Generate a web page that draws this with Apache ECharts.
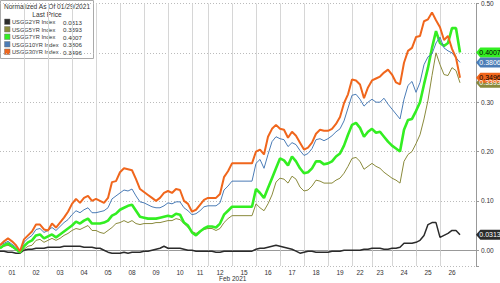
<!DOCTYPE html>
<html><head><meta charset="utf-8">
<script src="https://cdn.jsdelivr.net/npm/echarts@6/dist/echarts.min.js"></script>
<style>html,body{margin:0;padding:0;background:#fff}#c{width:500px;height:283px}</style>
</head><body><div id="c"></div>
<script>
// Session labels and the category index where each session starts / is labelled
const dayLabels = ['01','02','03','04','05','08','09','10','11','12','15','16','17','18','19','22','23','24','25','26'];
const dayStart  = [0,6,12,18,24,30,36,42,48,52,58,64,70,76,82,88,93,98,104,110];
const dayMid    = [3,9,15,21,27,33,39,45,50,55,61,67,73,79,85,90,95,101,107,113];
const totalSlots = 120;

const names = ['USGG2YR Index','USGG5YR Index','USGG7YR Index','USGG10YR Index','USGG30YR Index'];
const lastPrice = [0.0313, 0.3393, 0.4007, 0.3806, 0.3496];

const s2 = [-0.002,-0.002,-0.004,-0.004,-0.006,-0.006,0.000,0.002,0.002,0.004,0.004,0.004,0.006,0.006,0.006,0.006,0.008,0.008,0.008,0.008,
0.008,0.006,0.006,0.006,0.004,0.004,0.000,-0.004,-0.006,-0.006,-0.006,-0.004,-0.006,-0.004,-0.004,-0.004,-0.002,-0.002,0.000,0.002,
0.004,0.008,0.004,0.004,0.004,0.004,0.002,0.000,0.000,-0.002,-0.002,-0.002,-0.002,-0.002,-0.004,-0.004,-0.002,-0.002,-0.002,-0.002,
-0.002,-0.002,-0.002,-0.002,0.002,0.004,0.004,0.006,0.008,0.010,0.008,0.006,0.004,0.002,-0.002,-0.006,-0.004,-0.002,-0.002,-0.004,
-0.004,-0.004,-0.004,-0.002,-0.002,-0.002,0.000,0.000,0.000,0.000,0.000,0.002,0.002,0.004,0.004,0.004,0.002,0.002,0.004,0.004,
0.006,0.014,0.014,0.014,0.016,0.020,0.030,0.052,0.056,0.056,0.026,0.030,0.034,0.040,0.040,0.0313];

const s5 = [0.004,0.008,0.010,0.006,0.002,-0.006,0.002,0.008,0.010,0.020,0.022,0.016,0.020,0.024,0.020,0.024,0.030,0.034,0.040,0.044,
0.042,0.046,0.050,0.040,0.040,0.036,0.034,0.040,0.046,0.054,0.056,0.060,0.056,0.060,0.054,0.052,0.054,0.054,0.054,0.056,
0.056,0.058,0.060,0.060,0.064,0.062,0.054,0.046,0.038,0.034,0.038,0.042,0.044,0.044,0.040,0.044,0.056,0.064,0.070,0.070,
0.070,0.070,0.070,0.070,0.094,0.086,0.080,0.094,0.112,0.138,0.146,0.144,0.136,0.150,0.144,0.128,0.120,0.122,0.130,0.142,
0.140,0.136,0.136,0.136,0.142,0.146,0.156,0.170,0.186,0.188,0.180,0.164,0.170,0.176,0.170,0.166,0.158,0.152,0.146,0.142,
0.136,0.180,0.194,0.200,0.216,0.234,0.266,0.304,0.354,0.400,0.376,0.356,0.354,0.370,0.364,0.3393];

const s7 = [0.004,0.010,0.014,0.008,0.002,-0.004,0.008,0.016,0.020,0.030,0.032,0.024,0.028,0.032,0.026,0.032,0.038,0.044,0.050,0.058,
0.054,0.060,0.064,0.054,0.054,0.054,0.056,0.060,0.070,0.074,0.082,0.086,0.090,0.092,0.080,0.068,0.066,0.064,0.064,0.064,
0.066,0.068,0.070,0.068,0.074,0.072,0.056,0.050,0.036,0.030,0.038,0.044,0.048,0.048,0.046,0.054,0.072,0.080,0.088,0.088,
0.088,0.088,0.088,0.088,0.124,0.116,0.106,0.126,0.146,0.166,0.186,0.182,0.172,0.190,0.180,0.166,0.156,0.158,0.166,0.180,
0.180,0.174,0.176,0.180,0.190,0.196,0.212,0.234,0.254,0.258,0.248,0.230,0.240,0.246,0.238,0.240,0.230,0.220,0.212,0.206,
0.200,0.244,0.264,0.266,0.282,0.300,0.336,0.370,0.410,0.444,0.420,0.414,0.420,0.450,0.450,0.4007];

const s10 = [0.010,0.014,0.018,0.012,0.006,-0.002,0.016,0.024,0.030,0.042,0.044,0.036,0.040,0.046,0.040,0.048,0.056,0.062,0.072,0.080,
0.076,0.082,0.086,0.076,0.076,0.078,0.080,0.086,0.104,0.110,0.116,0.122,0.120,0.124,0.110,0.098,0.096,0.092,0.088,0.086,
0.086,0.090,0.096,0.094,0.098,0.098,0.086,0.080,0.072,0.074,0.080,0.088,0.090,0.090,0.090,0.096,0.122,0.130,0.140,0.140,
0.140,0.140,0.140,0.140,0.176,0.184,0.166,0.194,0.220,0.230,0.226,0.224,0.210,0.218,0.214,0.202,0.192,0.196,0.206,0.224,
0.226,0.222,0.226,0.232,0.240,0.246,0.262,0.288,0.314,0.316,0.306,0.292,0.300,0.306,0.300,0.300,0.308,0.296,0.286,0.276,
0.266,0.306,0.334,0.342,0.320,0.340,0.376,0.392,0.398,0.420,0.432,0.410,0.404,0.400,0.390,0.3806];

const s30 = [0.010,0.018,0.024,0.018,0.010,-0.002,0.022,0.030,0.038,0.052,0.052,0.042,0.040,0.054,0.046,0.056,0.066,0.078,0.094,0.104,
0.096,0.106,0.110,0.100,0.104,0.100,0.096,0.106,0.138,0.140,0.158,0.166,0.164,0.162,0.144,0.124,0.118,0.112,0.106,0.100,
0.106,0.116,0.120,0.116,0.124,0.122,0.100,0.094,0.078,0.082,0.092,0.102,0.106,0.106,0.106,0.114,0.148,0.160,0.176,0.176,
0.176,0.176,0.176,0.176,0.200,0.204,0.194,0.230,0.246,0.254,0.246,0.244,0.228,0.240,0.232,0.218,0.204,0.208,0.218,0.236,
0.244,0.242,0.242,0.246,0.256,0.270,0.298,0.316,0.346,0.344,0.336,0.308,0.330,0.344,0.348,0.352,0.360,0.366,0.356,0.340,
0.336,0.380,0.404,0.410,0.432,0.434,0.464,0.468,0.482,0.466,0.452,0.426,0.434,0.408,0.390,0.3496];

const seriesData = [s2, s5, s7, s10, s30];
const colors   = ['#2b2b2b', '#8a8a3c', '#33ee22', '#4b7cb6', '#f0661c'];
const widths   = [1.5, 1, 2.6, 1, 2];
const tagText  = ['#ffffff', '#ffffff', '#000000', '#ffffff', '#000000'];

const FONT = 'Liberation Sans';
const startSet = new Set(dayStart.slice(1));
const midMap = {};
dayMid.forEach((m, k) => { midMap[m] = dayLabels[k]; });
const cats = Array.from({length: totalSlots}, (_, i) => String(i));

const chart = echarts.init(document.getElementById('c'), null, {renderer: 'svg', width: 500, height: 283});

const series = seriesData.map((d, k) => ({
  name: names[k],
  type: 'line',
  data: d,
  showSymbol: false,
  symbol: 'none',
  lineStyle: {color: colors[k], width: widths[k]},
  itemStyle: {color: colors[k]},
  z: 2 + k,
  animation: false,
  markPoint: {
    symbol: 'path://M0,5L5,0L30,0L30,10L5,10Z',
    symbolSize: [26, 10],
    symbolKeepAspect: false,
    symbolOffset: [13, 0],
    itemStyle: {color: colors[k]},
    label: {show: true, position: 'inside', offset: [1, 0], color: tagText[k],
            fontSize: 7, fontFamily: FONT, formatter: () => lastPrice[k].toFixed(4)},
    data: [{coord: [totalSlots - 1, lastPrice[k]], value: lastPrice[k]}],
    animation: false
  }
}));

const legendChildren = [
  {type: 'rect', shape: {x: 0.5, y: 0.5, width: 93, height: 58}, style: {fill: '#fff', stroke: '#aaa', lineWidth: 1}},
  {type: 'text', x: 47, y: 6.5, style: {text: 'Normalized As Of 01/29/2021', fill: '#333', font: '6.6px ' + FONT, align: 'center', verticalAlign: 'middle'}},
  {type: 'text', x: 47, y: 14.5, style: {text: 'Last Price', fill: '#333', font: '6.6px ' + FONT, align: 'center', verticalAlign: 'middle'}}
];
names.forEach((n, k) => {
  const y = 22 + k * 7.5;
  legendChildren.push({type: 'rect', shape: {x: 4.5, y: y - 3, width: 5.5, height: 5.5}, style: {fill: colors[k], stroke: '#777', lineWidth: 0.5}});
  legendChildren.push({type: 'text', x: 12, y: y, style: {text: n, fill: '#333', font: '5.7px ' + FONT, verticalAlign: 'middle'}});
  legendChildren.push({type: 'text', x: 63, y: y, style: {text: lastPrice[k].toFixed(4), fill: '#333', font: '6.2px ' + FONT, verticalAlign: 'middle'}});
});

chart.setOption({
  backgroundColor: '#ffffff',
  animation: false,
  grid: {left: 0, right: 24, top: 2, bottom: 17, containLabel: false},
  xAxis: {
    type: 'category',
    data: cats,
    boundaryGap: false,
    axisLine: {show: true, lineStyle: {color: '#999', width: 1}},
    axisTick: {show: true, length: 6, interval: (i) => startSet.has(i), lineStyle: {color: '#ccc'}},
    axisLabel: {interval: (i) => midMap[i] !== undefined, formatter: (v, i) => midMap[i] || '',
                fontSize: 6.5, fontFamily: FONT, color: '#333', margin: 3},
    splitLine: {show: true, interval: (i) => startSet.has(i), lineStyle: {color: '#d6d6d6', width: 1}}
  },
  yAxis: {
    type: 'value',
    position: 'right',
    min: -0.032,
    max: 0.5,
    axisLine: {show: true, lineStyle: {color: '#999'}},
    axisTick: {show: true, length: 3, lineStyle: {color: '#999'}},
    axisLabel: {fontSize: 6.5, fontFamily: FONT, color: '#333', margin: 5,
                // 0.40 sits under the 7YR last-price tag in the reference, so it is not drawn
                formatter: (v) => (Math.abs(v * 10 - Math.round(v * 10)) < 1e-6 && Math.abs(v - 0.4) > 1e-6) ? v.toFixed(2) : ''},
    splitLine: {show: true, lineStyle: {color: '#bbb', type: [1, 2]}}
  },
  series: series,
  graphic: [
    {type: 'group', left: 0, top: 0, z: 100, children: legendChildren},
    {type: 'text', left: 219, top: 275, z: 100, style: {text: 'Feb 2021', fill: '#333', font: '6.5px ' + FONT}}
  ]
});
</script></body></html>
